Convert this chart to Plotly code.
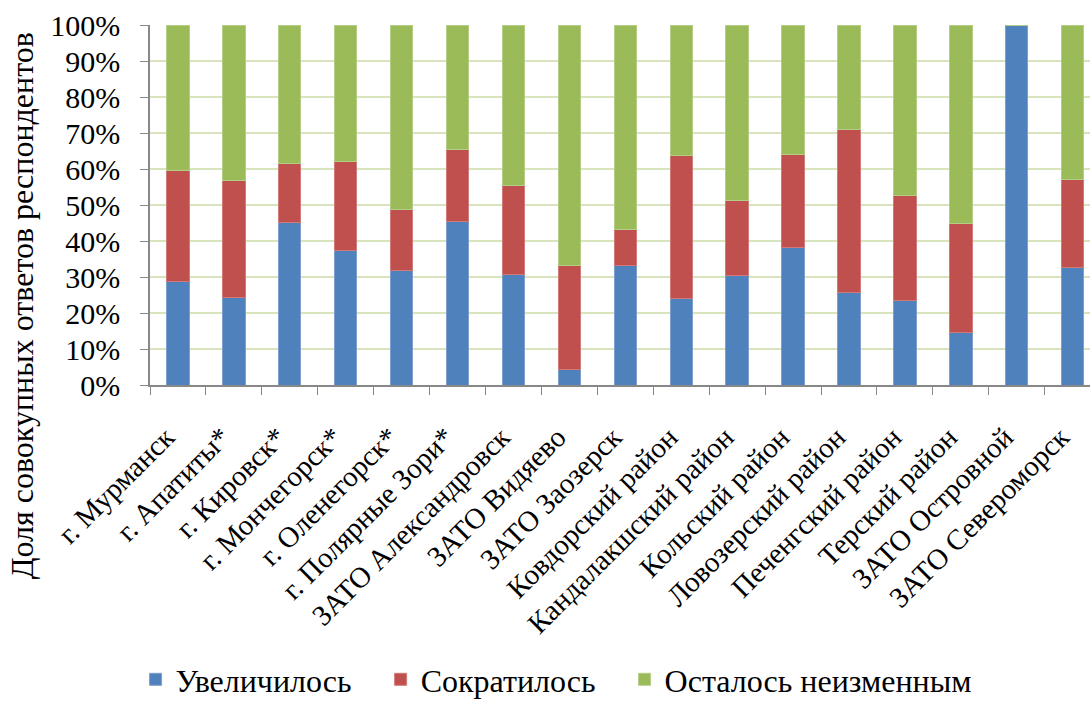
import plotly.graph_objects as go

categories = ["г. Мурманск", "г. Апатиты*", "г. Кировск*", "г. Мончегорск*", "г. Оленегорск*",
              "г. Полярные Зори*", "ЗАТО Александровск", "ЗАТО Видяево", "ЗАТО Заозерск",
              "Ковдорский район", "Кандалакшский район", "Кольский район", "Ловозерский район",
              "Печенгский район", "Терский район", "ЗАТО Островной", "ЗАТО Североморск"]
increased = [28.7, 24.4, 45.1, 37.4, 31.7, 45.4, 30.6, 4.4, 33.2, 23.9, 30.4, 38.2, 25.6, 23.4, 14.7, 100.0, 32.7]
decreased = [31.0, 32.3, 16.4, 24.8, 17.0, 20.0, 24.8, 28.7, 9.9, 39.8, 20.8, 25.8, 45.3, 29.2, 30.1, 0.0, 24.3]
unchanged = [40.3, 43.3, 38.5, 37.8, 51.3, 34.6, 44.6, 66.9, 56.9, 36.3, 48.8, 36.0, 29.1, 47.4, 55.2, 0.0, 43.0]
series_names = ["Увеличилось", "Сократилось", "Осталось неизменным"]
colors = ["#4f81bd", "#c0504d", "#9bbb59"]
edge_colors = ["#7d9fcc", "#d07b79", "#b5cd86"]
y_ticks = list(range(0, 101, 10))

FONT = "Liberation Serif, Times New Roman, serif"
PAD = "\u00a0" * 3

fig = go.Figure()
for i, (name, vals, c, ec) in enumerate(zip(series_names, [increased, decreased, unchanged], colors, edge_colors)):
    label = name + (PAD if i < 2 else "")
    fig.add_trace(go.Bar(x=categories, y=vals, name=label,
                         marker=dict(color=c, line=dict(color=ec, width=1))))

fig.update_layout(
    barmode="stack",
    bargap=0.6,
    width=1090, height=707,
    margin=dict(l=150, r=0, t=25, b=321),
    plot_bgcolor="white", paper_bgcolor="white",
    font=dict(family=FONT, size=28, color="black"),
    showlegend=True,
    legend=dict(orientation="h", x=0.432, xanchor="center", y=-0.82, yanchor="middle",
                font=dict(family=FONT, size=32), traceorder="normal"),
    xaxis=dict(range=[-0.5, 16.31], tickangle=-45, ticks="outside", tickson="boundaries",
               ticklen=8, tickcolor="#888888", showline=True, linecolor="#888888", linewidth=1.5,
               showgrid=False, tickfont=dict(family=FONT, size=29),
               ticklabelstandoff=22, ticklabelshift=-12),
    yaxis=dict(range=[0, 100], tickvals=y_ticks, ticktext=[f"{v}%" for v in y_ticks],
               ticks="outside", ticklen=8, tickcolor="#888888", showline=True, linecolor="#888888",
               linewidth=1.5, showgrid=True, gridcolor="#d7e4bd", gridwidth=1.5,
               tickfont=dict(family=FONT, size=30), zeroline=False, ticklabelstandoff=14),
    annotations=[dict(text="Доля совокупных ответов респондентов", textangle=-90,
                      xref="paper", yref="paper", x=-0.136, y=0.219, xanchor="center", yanchor="middle",
                      showarrow=False, font=dict(family=FONT, size=32))],
)

fig.write_html("out.html", config={"displayModeBar": False},
               post_script="document.body.style.margin='0';")
